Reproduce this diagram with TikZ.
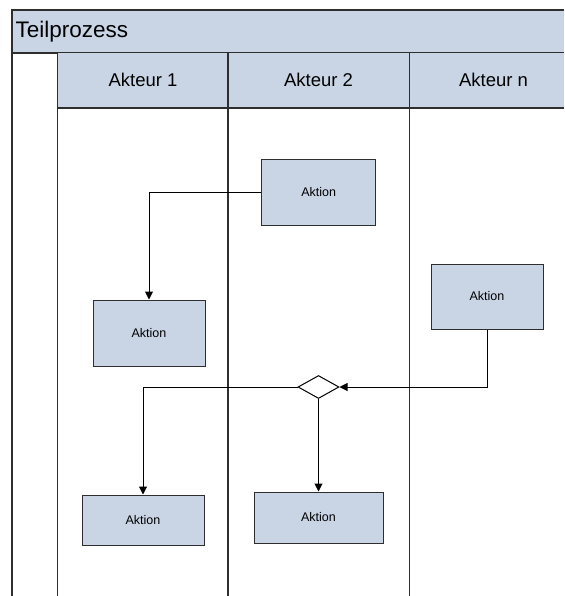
\documentclass[tikz,border=0pt]{standalone}
\usepackage{fontspec}
\setmainfont{Liberation Sans}
\usetikzlibrary{arrows.meta,shapes.geometric}
\definecolor{laneblue}{HTML}{C9D5E5}
\definecolor{edgegray}{HTML}{2E2E2E}

\tikzset{
  lanerule/.style={draw=edgegray, line width=1.4pt},
  headtext/.style={font=\fontsize{18.5}{22}\selectfont, inner sep=0pt},
  actionbox/.style={draw=edgegray, line width=1pt, fill=laneblue, rectangle,
    inner sep=0pt, font=\fontsize{12.5}{15}\selectfont},
  decision/.style={draw=black, line width=1pt, fill=white, diamond,
    inner sep=0pt, minimum width=41pt, minimum height=23pt},
  flow/.style={draw=black, line width=1pt, -{Triangle[length=8pt,width=8pt]}}
}

\begin{document}
\begin{tikzpicture}[x=1pt,y=-1pt]
\useasboundingbox (0,0) rectangle (564,596);

% pool title band
\fill[laneblue] (12,10) rectangle (564,53);
\draw[lanerule] (564,10) -- (12,10) -- (12,596);
\draw[lanerule] (12,53) -- (564,53);
\node[anchor=west, font=\fontsize{22.5}{26}\selectfont, inner sep=0pt] (title) at (15.5,31.5) {Teilprozess};

% lane headers
\fill[laneblue] (57.5,53) rectangle (564,108);
\draw[lanerule] (57.5,108) -- (564,108);
\foreach \x in {57.5,228,409.5} {
  \draw[lanerule] (\x,53) -- (\x,596);
}
\node[headtext] (lane1) at (143,80) {Akteur 1};
\node[headtext] (lane2) at (318.5,80) {Akteur 2};
\node[headtext] (lanen) at (493.5,80) {Akteur n};

% activities
\node[actionbox, minimum width=114pt, minimum height=65pt] (a2) at (318.7,192.5) {Aktion};
\node[actionbox, minimum width=112pt, minimum height=66pt] (a1) at (149,333) {Aktion};
\node[actionbox, minimum width=112pt, minimum height=65pt] (an) at (487,296.5) {Aktion};
\node[actionbox, minimum width=122pt, minimum height=50pt] (b1) at (143,520) {Aktion};
\node[actionbox, minimum width=129pt, minimum height=51pt] (b2) at (318.5,517.5) {Aktion};

% gateway
\node[decision] (gw) at (318.5,387) {};

% sequence flows
\draw[flow] (a2.west) -| (a1.north);
\draw[flow] (an.south) |- (gw.east);
\draw[flow] (gw.west) -| (b1.north);
\draw[flow] (gw.south) -- (b2.north);
\end{tikzpicture}
\end{document}
